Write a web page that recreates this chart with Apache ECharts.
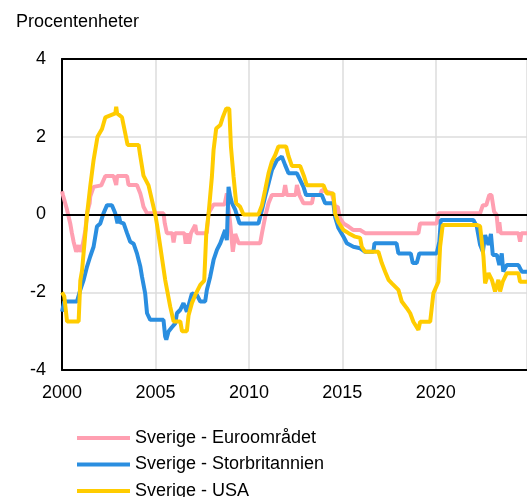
<!DOCTYPE html>
<html>
<head>
<meta charset="utf-8">
<script src="https://cdn.jsdelivr.net/npm/echarts@6/dist/echarts.min.js"></script>
<style>
  html, body { margin: 0; padding: 0; background: #fff; }
  #chart { width: 527px; height: 497px; }
</style>
</head>
<body>
<div id="chart"></div>
<script>
// [år, procentenheter]
const euroArea = [[2000.0,0.6],[2000.05,0.5],[2000.27,0.12],[2000.44,-0.23],[2000.53,-0.48],[2000.62,-0.7],[2000.76,-0.96],[2000.89,-0.79],[2000.98,-0.96],[2001.12,-0.75],[2001.25,-0.4],[2001.34,0.03],[2001.48,0.29],[2001.51,0.46],[2001.69,0.71],[2002.1,0.75],[2002.32,0.99],[2002.76,0.99],[2002.9,0.76],[2002.95,0.99],[2003.48,0.99],[2003.56,0.76],[2004.01,0.76],[2004.19,0.54],[2004.28,0.37],[2004.36,0.2],[2004.55,0.03],[2005.43,0.03],[2005.5,-0.23],[2005.61,-0.48],[2005.9,-0.48],[2005.97,-0.72],[2006.05,-0.48],[2006.55,-0.48],[2006.62,-0.75],[2006.7,-0.48],[2006.8,-0.75],[2006.9,-0.48],[2007.13,-0.27],[2007.2,-0.48],[2007.75,-0.48],[2007.84,0.03],[2008.11,0.26],[2008.7,0.26],[2008.82,0.54],[2008.9,0.2],[2009.0,-0.23],[2009.14,-0.96],[2009.27,-0.5],[2009.45,-0.74],[2010.6,-0.74],[2010.7,-0.48],[2010.87,-0.06],[2011.05,0.29],[2011.23,0.5],[2011.85,0.5],[2011.94,0.76],[2012.03,0.5],[2012.5,0.5],[2012.57,0.76],[2012.7,0.5],[2012.92,0.29],[2013.37,0.29],[2013.46,0.5],[2013.81,0.5],[2013.9,0.63],[2014.44,0.54],[2014.61,0.2],[2014.75,0.2],[2014.88,-0.1],[2015.06,-0.23],[2015.33,-0.31],[2015.59,-0.4],[2015.95,-0.4],[2016.22,-0.48],[2019.07,-0.48],[2019.16,-0.23],[2020.05,-0.23],[2020.14,0.03],[2022.37,0.03],[2022.52,0.24],[2022.7,0.24],[2022.86,0.5],[2022.98,0.5],[2023.12,0.07],[2023.25,0.0],[2023.35,-0.48],[2023.4,-0.2],[2023.47,-0.48],[2024.42,-0.48],[2024.51,-0.7],[2024.58,-0.48],[2024.88,-0.48]];

const unitedKingdom = [[2000.0,-2.5],[2000.05,-2.45],[2000.12,-2.24],[2000.8,-2.24],[2000.98,-1.94],[2001.16,-1.68],[2001.34,-1.34],[2001.51,-1.08],[2001.69,-0.83],[2001.87,-0.31],[2002.05,-0.23],[2002.22,0.03],[2002.41,0.24],[2002.67,0.24],[2002.85,0.03],[2002.97,-0.23],[2003.05,-0.05],[2003.12,-0.2],[2003.3,-0.23],[2003.48,-0.48],[2003.65,-0.7],[2003.83,-0.75],[2004.01,-1.0],[2004.19,-1.34],[2004.28,-1.6],[2004.45,-2.03],[2004.55,-2.54],[2004.72,-2.71],[2005.43,-2.71],[2005.52,-3.14],[2005.58,-3.22],[2005.7,-3.01],[2005.88,-2.9],[2006.06,-2.8],[2006.15,-2.54],[2006.33,-2.45],[2006.5,-2.28],[2006.68,-2.5],[2006.95,-2.03],[2007.22,-2.07],[2007.4,-2.24],[2007.66,-2.24],[2007.75,-1.94],[2007.93,-1.6],[2008.11,-1.17],[2008.29,-0.91],[2008.47,-0.74],[2008.73,-0.4],[2008.82,-0.66],[2008.91,0.71],[2009.0,0.46],[2009.09,0.3],[2009.27,0.12],[2009.5,-0.23],[2010.51,-0.23],[2010.7,0.12],[2010.87,0.46],[2011.05,0.8],[2011.23,1.14],[2011.5,1.4],[2011.76,1.49],[2011.94,1.27],[2012.12,1.06],[2012.57,1.06],[2012.74,0.89],[2012.92,0.71],[2013.06,0.5],[2013.9,0.5],[2014.08,0.29],[2014.52,0.29],[2014.61,-0.06],[2014.79,-0.35],[2015.06,-0.57],[2015.24,-0.74],[2015.59,-0.83],[2015.95,-0.87],[2016.22,-0.96],[2016.66,-0.96],[2016.72,-0.74],[2017.9,-0.74],[2018.0,-1.0],[2018.66,-1.0],[2018.77,-1.25],[2018.98,-1.25],[2019.12,-1.0],[2020.05,-1.0],[2020.19,-0.7],[2020.27,-0.14],[2022.01,-0.14],[2022.19,-0.3],[2022.37,-0.78],[2022.52,-0.96],[2022.64,-0.53],[2022.82,-0.78],[2022.95,-0.5],[2023.05,-1.04],[2023.27,-1.04],[2023.4,-1.3],[2023.53,-1.0],[2023.61,-1.47],[2023.8,-1.3],[2024.42,-1.3],[2024.6,-1.47],[2024.88,-1.47]];

const usa = [[2000.0,-2.0],[2000.12,-2.1],[2000.27,-2.75],[2000.89,-2.75],[2000.98,-1.7],[2001.07,-1.45],[2001.34,0.0],[2001.51,0.72],[2001.6,0.75],[2001.69,1.4],[2001.9,2.0],[2002.14,2.2],[2002.32,2.5],[2002.85,2.6],[2002.9,2.77],[2002.95,2.6],[2003.21,2.5],[2003.51,1.79],[2004.1,1.79],[2004.19,1.5],[2004.36,1.0],[2004.63,0.75],[2004.99,0.0],[2005.08,-0.25],[2005.26,-0.83],[2005.52,-1.68],[2005.79,-2.37],[2005.97,-2.75],[2006.33,-2.75],[2006.42,-3.0],[2006.68,-3.0],[2006.77,-2.6],[2006.95,-2.28],[2007.13,-2.07],[2007.4,-1.81],[2007.61,-1.7],[2007.72,-0.48],[2007.84,0.0],[2008.02,0.97],[2008.11,1.66],[2008.25,2.21],[2008.47,2.3],[2008.61,2.51],[2008.79,2.73],[2008.95,2.72],[2009.04,1.74],[2009.18,0.97],[2009.32,0.29],[2009.53,0.2],[2009.71,0.0],[2010.51,0.0],[2010.7,0.24],[2010.87,0.63],[2011.05,1.06],[2011.23,1.36],[2011.41,1.53],[2011.58,1.75],[2011.99,1.75],[2012.12,1.5],[2012.3,1.25],[2012.74,1.25],[2012.96,0.97],[2013.1,0.75],[2013.99,0.75],[2014.17,0.54],[2014.52,0.54],[2014.61,0.03],[2014.79,-0.2],[2015.06,-0.4],[2015.33,-0.48],[2015.68,-0.57],[2015.95,-0.6],[2016.04,-0.83],[2016.22,-0.96],[2016.93,-0.96],[2017.11,-1.25],[2017.29,-1.47],[2017.47,-1.68],[2017.65,-1.77],[2018.0,-1.94],[2018.18,-2.24],[2018.45,-2.41],[2018.63,-2.54],[2018.8,-2.76],[2019.07,-2.97],[2019.16,-2.76],[2019.7,-2.76],[2019.87,-2.03],[2020.14,-1.73],[2020.23,-0.83],[2020.37,-0.27],[2022.19,-0.27],[2022.37,-0.3],[2022.55,-1.08],[2022.64,-1.77],[2022.82,-1.51],[2023.0,-1.68],[2023.17,-1.98],[2023.35,-1.68],[2023.44,-1.98],[2023.58,-1.73],[2023.8,-1.51],[2024.42,-1.51],[2024.51,-1.73],[2024.88,-1.73]];

const seriesNames = ['Sverige - Euroområdet', 'Sverige - Storbritannien', 'Sverige - USA'];
const seriesColors = ['#ff9fb1', '#2a8ee0', '#ffcc00'];
const xMin = 2000, xMax = 2024.88;

const font = 'Liberation Sans, Arial, sans-serif';
const chart = echarts.init(document.getElementById('chart'));

const series = [euroArea, unitedKingdom, usa].map((d, i) => ({
  name: seriesNames[i],
  type: 'line',
  data: d,
  showSymbol: false,
  symbol: 'none',
  lineStyle: { color: seriesColors[i], width: 4 },
  itemStyle: { color: seriesColors[i] },
  z: 3 + i
}));

// nollinjen
series.unshift({
  type: 'line',
  data: [],
  silent: true,
  markLine: {
    silent: true,
    symbol: 'none',
    label: { show: false },
    lineStyle: { color: '#000', width: 2, type: 'solid' },
    data: [{ yAxis: 0 }]
  },
  z: 2
});

// en legend per rad så att den inte bryts i kolumner
const legends = seriesNames.map((name, i) => ({
  left: 72,
  top: 424 + i * 26.5,
  itemWidth: 53,
  itemHeight: 4,
  icon: 'rect',
  data: [name],
  textStyle: { fontFamily: font, fontSize: 18, color: '#000' }
}));

chart.setOption({
  animation: false,
  textStyle: { fontFamily: font },
  title: {
    text: 'Procentenheter',
    left: 11,
    top: 8,
    textStyle: { fontFamily: font, fontSize: 18, fontWeight: 'normal', color: '#000' }
  },
  grid: { left: 62, top: 59, right: 0, bottom: 127 },
  legend: legends,
  xAxis: [{
    type: 'value',
    min: xMin,
    max: xMax,
    interval: 5,
    axisLine: { show: true, onZero: false, lineStyle: { color: '#000', width: 2 } },
    axisTick: { show: false },
    axisLabel: {
      fontSize: 18, color: '#000', margin: 14, showMaxLabel: false, fontFamily: font,
      formatter: v => String(v)
    },
    splitLine: { show: true, lineStyle: { color: '#dcdcdc', width: 1.5 } }
  }, {
    type: 'value',
    position: 'top',
    min: xMin,
    max: xMax,
    axisLine: { show: true, onZero: false, lineStyle: { color: '#000', width: 2 } },
    axisTick: { show: false },
    axisLabel: { show: false },
    splitLine: { show: false }
  }],
  yAxis: {
    type: 'value',
    min: -4,
    max: 4,
    interval: 2,
    axisLine: { show: true, lineStyle: { color: '#000', width: 2 } },
    axisTick: { show: false },
    axisLabel: { fontSize: 18, color: '#000', margin: 16, fontFamily: font },
    splitLine: { show: true, lineStyle: { color: '#dcdcdc', width: 1.5 } }
  },
  series: series
});
</script>
</body>
</html>
